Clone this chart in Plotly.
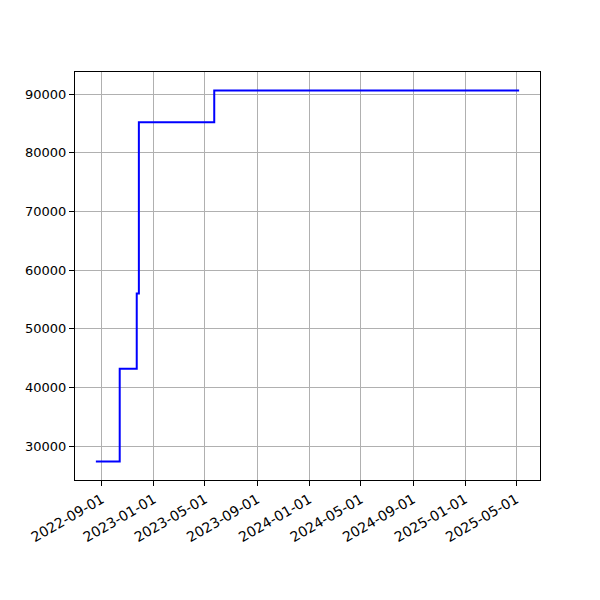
import plotly.graph_objects as go

dates = ["2022-08-18", "2022-10-13", "2022-11-22", "2022-11-27", "2023-05-23", "2025-05-08"]
values = [27400, 43200, 56000, 85200, 90600, 90600]
tick_dates = ["2022-09-01", "2023-01-01", "2023-05-01", "2023-09-01", "2024-01-01",
              "2024-05-01", "2024-09-01", "2025-01-01", "2025-05-01"]
y_ticks = [30000, 40000, 50000, 60000, 70000, 80000, 90000]

fig = go.Figure()
fig.add_trace(go.Scatter(x=dates, y=values, mode="lines", line_shape="hv",
                         line=dict(color="blue", width=2), showlegend=False))

axis_common = dict(showline=True, linecolor="black", linewidth=1, mirror=True,
                   ticks="outside", ticklen=5, tickcolor="black", tickwidth=1,
                   showgrid=True, gridcolor="#b0b0b0", gridwidth=1, zeroline=False)

fig.update_xaxes(type="date", range=["2022-06-30", "2025-06-26"],
                 tickvals=tick_dates, ticktext=tick_dates, tickangle=-30,
                 tickfont=dict(family="DejaVu Sans", size=14, color="black"),
                 automargin=False, **axis_common)
fig.update_yaxes(range=[24240, 93760], tickvals=y_ticks,
                 ticktext=[str(v) for v in y_ticks],
                 tickfont=dict(family="DejaVu Sans", size=13, color="black"),
                 automargin=False, **axis_common)

fig.update_layout(width=600, height=600, plot_bgcolor="white", paper_bgcolor="white",
                  margin=dict(l=67, r=68, t=64, b=128))
fig.write_html("out.html")
